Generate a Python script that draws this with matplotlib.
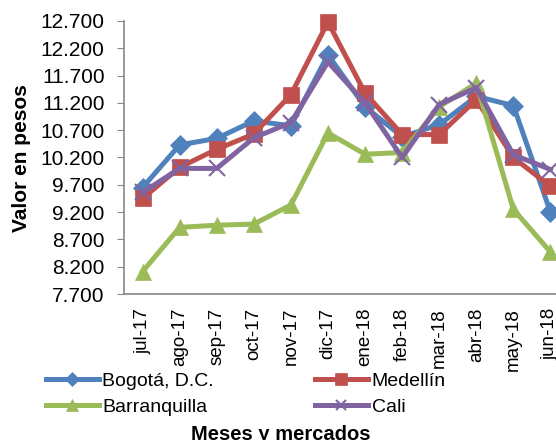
import matplotlib
matplotlib.use("Agg")
import matplotlib.pyplot as plt
from matplotlib.ticker import FixedLocator, FuncFormatter

plt.rcParams['font.family'] = ['Liberation Sans', 'DejaVu Sans']

months = ["jul-17", "ago-17", "sep-17", "oct-17", "nov-17", "dic-17",
          "ene-18", "feb-18", "mar-18", "abr-18", "may-18", "jun-18"]
bogota = [9650, 10430, 10550, 10870, 10780, 12080, 11130, 10580, 10800, 11320, 11150, 9200]
medellin = [9450, 10020, 10350, 10630, 11350, 12680, 11380, 10620, 10620, 11260, 10200, 9670]
barranquilla = [8110, 8920, 8960, 8980, 9330, 10650, 10260, 10290, 11130, 11560, 9250, 8470]
cali = [9560, 10000, 10000, 10560, 10840, 11950, 11200, 10200, 11170, 11480, 10250, 9980]
yticks = [7700, 8200, 8700, 9200, 9700, 10200, 10700, 11200, 11700, 12200, 12700]

W, H = 556, 440
fig = plt.figure(figsize=(W / 100, H / 100), dpi=100)
ax = fig.add_axes([124 / W, 1 - 294 / H, 445 / W, (294 - 21) / H])

x = list(range(len(months)))
series = [
    ("Bogotá, D.C.", bogota, "#4F81BD", "D", 10),
    ("Medellín", medellin, "#C0504D", "s", 12),
    ("Barranquilla", barranquilla, "#9BBB59", "^", 12),
    ("Cali", cali, "#8064A2", "x", 11),
]
handles = {}
for name, vals, col, mk, ms in series:
    kw = dict(color=col, lw=3.6, marker=mk, markersize=ms, markerfacecolor=col,
              markeredgecolor=col, label=name, solid_joinstyle='round', clip_on=False)
    kw["markeredgewidth"] = 1.5 if mk == "x" else 0.5
    h, = ax.plot(x, vals, **kw)
    handles[name] = h

ax.set_xlim(-0.5, len(months) - 0.5)
ax.set_ylim(7700, 12700)
ax.yaxis.set_major_locator(FixedLocator(yticks))
ax.yaxis.set_major_formatter(FuncFormatter(lambda v, p: f"{int(v):,}".replace(",", ".")))
ax.set_xticks(x)
ax.set_xticklabels(months, rotation=90, fontsize=13.5)
ax.tick_params(axis='x', length=0, pad=10)
ax.tick_params(axis='y', labelsize=15, length=5, color='#888888', direction='out', pad=9)
for s in ['top', 'right']:
    ax.spines[s].set_visible(False)
for s in ['left', 'bottom']:
    ax.spines[s].set_color('#888888')
    ax.spines[s].set_linewidth(1.2)

fig.text(22 / W, 1 - 158 / H, "Valor en pesos", rotation=90, ha='center', va='center',
         fontsize=15, fontweight='bold')

order = ["Bogotá, D.C.", "Barranquilla", "Medellín", "Cali"]
leg = fig.legend(handles=[handles[n] for n in order], ncol=2, loc='upper left',
                 bbox_to_anchor=(46 / W, 1 - 372 / H), frameon=False,
                 fontsize=14, handlelength=2.7, handletextpad=0.2,
                 columnspacing=5.2, labelspacing=0.45, markerscale=0.7,
                 borderaxespad=0, borderpad=0)
fig.text(281 / W, 1 - 434 / H, "Meses y mercados", ha='center', va='center',
         fontsize=14.5, fontweight='bold')

fig.savefig("out.png", dpi=100)
